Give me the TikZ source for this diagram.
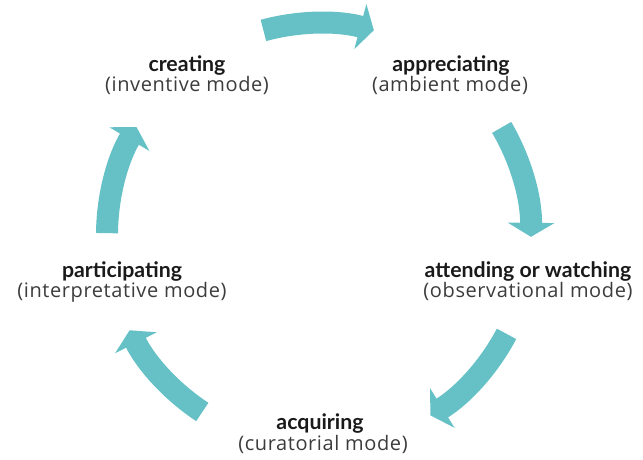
\documentclass[tikz,border=0pt]{standalone}
\usepackage{fontspec}
\setmainfont{Lato}
\newfontfamily\modefont{Open Sans}[LetterSpace=3]
\usetikzlibrary{arrows.meta,calc}
\definecolor{teal1}{RGB}{102,193,198}
\definecolor{titlecol}{RGB}{26,26,26}
\definecolor{modecol}{RGB}{60,60,60}
\begin{document}
\begin{tikzpicture}[x=1pt,y=1pt,
  cyc/.style={draw=teal1,line width=22pt,-{Triangle[length=14pt,width=46pt]}},
  title/.style={anchor=base,inner sep=0pt,text=titlecol,font=\fontsize{21.3}{23}\selectfont\bfseries},
  mode/.style={anchor=base,inner sep=0pt,text=modecol,font=\modefont\fontsize{20}{22}\selectfont}]
\useasboundingbox (0,0) rectangle (643,459);
\coordinate (c) at (319,224);
\def\R{212}
% labels
\node[title] (creT) at (187,387.5) {creating};
\node[mode]  (creM) at (187,367) {(inventive mode)};
\node[title] (appT) at (451,387.5) {appreciating};
\node[mode]  (appM) at (450,367) {(ambient mode)};
\node[title] (attT) at (528,182) {attending or watching};
\node[mode]  (attM) at (528,162) {(observational mode)};
\node[title] (acqT) at (320,30) {acquiring};
\node[mode]  (acqM) at (323,9) {(curatorial mode)};
\node[title] (parT) at (122,182) {participating};
\node[mode]  (parM) at (122,162) {(interpretative mode)};
% cycle arrows
\draw[cyc] ($(c)+(105.2:\R)$) arc[start angle=105.2,end angle=75,radius=\R];
\draw[cyc] ($(c)+(30.5:\R)$) arc[start angle=30.5,end angle=-0.5,radius=\R];
\draw[cyc] ($(c)+(-27.8:\R)$) arc[start angle=-27.8,end angle=-58.3,radius=\R];
\draw[cyc] ($(c)+(236.6:\R)$) arc[start angle=236.6,end angle=206.7,radius=\R];
\draw[cyc] ($(c)+(179.5:\R)$) arc[start angle=179.5,end angle=149.4,radius=\R];
\end{tikzpicture}
\end{document}
